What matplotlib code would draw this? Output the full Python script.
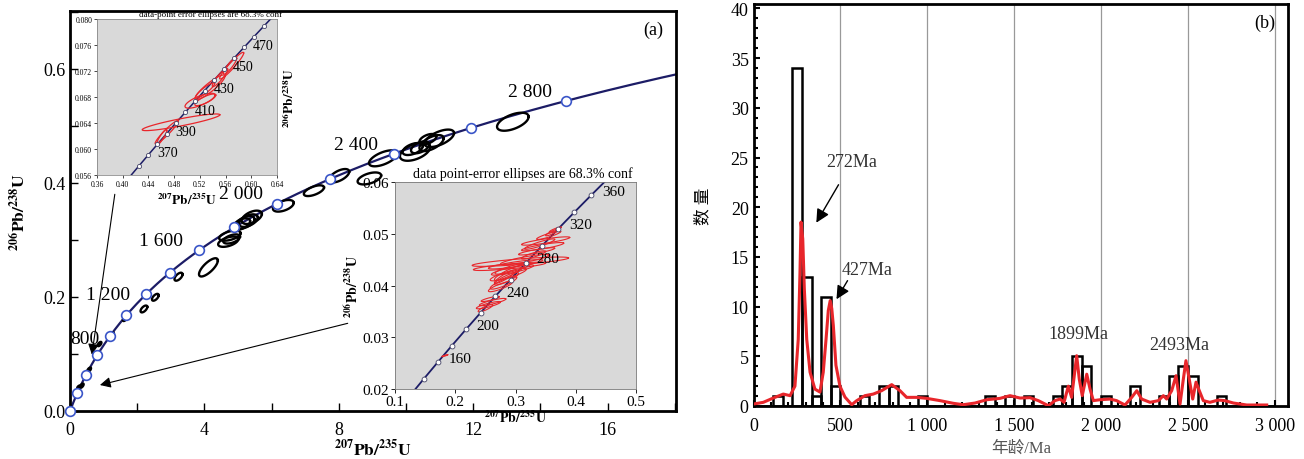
import numpy as np
import matplotlib
matplotlib.use('Agg')
import matplotlib.pyplot as plt
from matplotlib.ticker import MultipleLocator

plt.rcParams['font.family'] = ['Liberation Serif', 'Noto Sans CJK SC']
plt.rcParams['mathtext.fontset'] = 'stix'

# decay constants, 1/Ma
lam238 = 1.55125e-4
lam235 = 9.8485e-4

# concordia ticks (Ma)
main_ticks = [0, 200, 400, 600, 800, 1000, 1200, 1400, 1600, 1800, 2000, 2200, 2400, 2600, 2800]
main_labelled = [800, 1200, 1600, 2000, 2400, 2800]
main_label_txt = ['800', '1 200', '1 600', '2 000', '2 400', '2 800']
in1_ticks = [360, 370, 380, 390, 400, 410, 420, 430, 440, 450, 460, 470, 480, 490]
in1_labelled = [370, 390, 410, 430, 450, 470]
in2_ticks = [140, 160, 180, 200, 220, 240, 260, 280, 300, 320, 340, 360]
in2_labelled = [160, 200, 240, 280, 320, 360]

# old grains, main diagram: 207Pb/235U, 206Pb/238U, 1s x, 1s y, rho
old_x = [13.18, 10.99, 10.76, 10.27, 10.20, 10.42, 10.65, 9.32, 8.01, 8.91, 7.26, 6.35,
         5.41, 5.31, 5.21, 5.11, 4.76, 4.71, 4.81, 4.12, 3.23, 2.54, 2.20]
old_y = [0.5075, 0.4784, 0.470, 0.455, 0.4596, 0.4626, 0.477, 0.4433, 0.4128, 0.408, 0.3865, 0.360,
         0.3398, 0.334, 0.331, 0.328, 0.3076, 0.297, 0.3018, 0.252, 0.2356, 0.1995, 0.179]
old_sx = [0.47, 0.44, 0.36, 0.45, 0.30, 0.27, 0.25, 0.42, 0.30, 0.35, 0.30, 0.31,
          0.30, 0.28, 0.28, 0.25, 0.32, 0.30, 0.25, 0.28, 0.12, 0.10, 0.10]
old_sy = [0.0158, 0.0153, 0.014, 0.016, 0.0105, 0.0105, 0.009, 0.014, 0.0117, 0.0105, 0.0094, 0.0102,
          0.0117, 0.011, 0.011, 0.010, 0.0088, 0.009, 0.008, 0.016, 0.007, 0.006, 0.006]
old_rho = [0.55, 0.6, 0.6, 0.5, 0.5, 0.5, 0.5, 0.6, 0.6, 0.5, 0.6, 0.5,
           0.5, 0.5, 0.5, 0.5, 0.5, 0.5, 0.5, 0.75, 0.6, 0.6, 0.6]
# small grains sitting on the curve
small_x = [1.64, 1.24, 0.88, 0.57, 0.35, 0.26]
small_y = [0.1626, 0.1333, 0.1175, 0.0725, 0.0444, 0.042]
small_sx = [0.07, 0.07, 0.06, 0.06, 0.06, 0.05]
small_sy = [0.005, 0.005, 0.004, 0.004, 0.004, 0.003]

# inset 1 grains (~370-470 Ma)
in1_x = [0.4907, 0.4684, 0.5202, 0.5285, 0.5358, 0.528, 0.5695, 0.567, 0.5513, 0.4606]
in1_y = [0.06411, 0.06257, 0.06743, 0.06757, 0.06949, 0.0690, 0.07282, 0.0728, 0.0710, 0.0618]
in1_sx = [0.0604, 0.018, 0.0233, 0.0163, 0.0233, 0.015, 0.0187, 0.0104, 0.012, 0.008]
in1_sy = [0.00128, 0.0018, 0.00115, 0.0009, 0.0019, 0.0012, 0.00205, 0.00128, 0.0014, 0.0012]
in1_rho = [0.9, 0.95, 0.75, 0.8, 0.9, 0.9, 0.95, 0.9, 0.9, 0.9]

# inset 2 grains (~160-320 Ma)
in2_x = [0.350, 0.345, 0.335, 0.355, 0.362, 0.366, 0.340, 0.330,
         0.308, 0.290, 0.300, 0.315, 0.295, 0.288, 0.285, 0.280, 0.275, 0.290, 0.283, 0.296,
         0.262, 0.255, 0.250, 0.258, 0.1826]
in2_y = [0.0486, 0.0475, 0.0466, 0.0497, 0.0503, 0.0508, 0.0480, 0.0459,
         0.0446, 0.0437, 0.0441, 0.0450, 0.0430, 0.0421, 0.0413, 0.0405, 0.0398, 0.0425, 0.0417, 0.0433,
         0.0368, 0.0362, 0.0356, 0.0374, 0.02644]
in2_sx = [0.040, 0.035, 0.030, 0.020, 0.012, 0.010, 0.025, 0.020,
          0.080, 0.060, 0.045, 0.040, 0.035, 0.030, 0.020, 0.022, 0.020, 0.025, 0.018, 0.030,
          0.022, 0.020, 0.012, 0.015, 0.005]
in2_sy = [0.0008, 0.0008, 0.0007, 0.0008, 0.0007, 0.0005, 0.0010, 0.0008,
          0.0009, 0.0008, 0.0009, 0.0010, 0.0010, 0.0012, 0.0012, 0.0012, 0.0010, 0.0015, 0.0013, 0.0011,
          0.0007, 0.0007, 0.0007, 0.0005, 0.0002]
in2_rho = [0.85, 0.85, 0.85, 0.9, 0.9, 0.9, 0.9, 0.85,
           0.8, 0.8, 0.85, 0.85, 0.85, 0.85, 0.85, 0.85, 0.85, 0.9, 0.9, 0.85,
           0.85, 0.85, 0.85, 0.85, 0.9]

# histogram, bins of 500/9 Ma from 0
bin_width = 500 / 9
counts = [0, 0, 1, 0, 34, 13, 1, 11, 2, 0, 0, 1, 0, 2, 2, 0, 0, 1, 0, 0,
          0, 0, 0, 0, 1, 0, 1, 0, 1, 0, 0, 1, 2, 5, 4, 0, 1, 0, 0, 2,
          0, 0, 1, 3, 4, 3, 0, 0, 1, 0, 0, 0, 0, 0]

# probability curve (Ma, scaled to counts)
kde_age = [0, 56, 113, 171, 210, 238, 257, 267, 273, 283, 292, 306, 325, 353, 382, 401, 417, 430,
           441, 450, 459, 474, 497, 526, 565, 593, 641, 689, 737, 795, 843, 881, 939, 996,
           1073, 1150, 1207, 1275, 1342, 1419, 1476, 1534, 1591, 1639, 1697, 1735, 1764, 1787,
           1812, 1831, 1860, 1875, 1892, 1918, 1937, 1956, 1994, 2052, 2090, 2138, 2177, 2206,
           2234, 2282, 2330, 2359, 2378, 2407, 2432, 2455, 2474, 2489, 2508, 2528, 2547, 2566,
           2589, 2627, 2675, 2713, 2762, 2839, 2954]
kde_val = [0.2, 0.37, 0.8, 1.2, 1.04, 2.0, 6.7, 13.4, 18.5, 16.8, 11.8, 6.7, 3.4, 1.7, 1.4, 3.4, 6.7, 9.6,
           10.6, 9.8, 8.1, 4.1, 2.0, 0.9, 0.13, 0.53, 1.04, 1.2, 1.54, 2.15, 1.54, 0.87, 0.87, 0.77,
           0.54, 0.27, 0.13, 0.3, 0.63, 0.77, 1.04, 0.8, 0.84, 0.54, 0.03, 0.54, 0.7, 0.37,
           2.0, 0.87, 5.06, 2.7, 1.04, 3.2, 1.7, 0.54, 0.63, 0.7, 0.54, 0.1, 0.87, 1.54,
           0.7, 0.37, 0.54, 1.04, 0.7, 1.54, 3.05, 0.2, 2.7, 4.56, 2.7, 0.7, 2.4, 1.54,
           0.54, 0.37, 0.6, 0.54, 0.3, 0.1, 0.1]

b_xticks = [0, 500, 1000, 1500, 2000, 2500, 3000]
b_xlabels = ['0', '500', '1 000', '1 500', '2 000', '2 500', '3 000']
peak_txt = ['272Ma', '427Ma', '1899Ma', '2493Ma']


def conc(t):
    t = np.asarray(t, dtype=float)
    return np.exp(lam235 * t) - 1, np.exp(lam238 * t) - 1


def ell(x, y, sx, sy, rho):
    a = np.linspace(0, 2 * np.pi, 120)
    return x + sx * np.cos(a), y + sy * (rho * np.cos(a) + np.sqrt(1 - rho ** 2) * np.sin(a))


W, H = 1304, 460
fig = plt.figure(figsize=(W / 100, H / 100), dpi=100)

navy = '#1c1c66'
red = '#e8262b'

# ---------------- (a) main concordia
ax = fig.add_axes([70 / W, 48 / H, 606 / W, 400 / H])
ax.set_xlim(0, 606 / 33.6)
ax.set_ylim(0, 400 / 570)
cx, cy = conc(np.linspace(0, 3100, 400))
ax.plot(cx, cy, color=navy, lw=1.6, zorder=2)
for i in range(len(old_x)):
    ex, ey = ell(old_x[i], old_y[i], old_sx[i], old_sy[i], old_rho[i])
    ax.plot(ex, ey, color='k', lw=1.7, zorder=3)
for i in range(len(small_x)):
    ex, ey = ell(small_x[i], small_y[i], small_sx[i], small_sy[i], 0.6)
    ax.fill(ex, ey, color='k', lw=1.5, zorder=3)
mx, my = conc(main_ticks)
ax.plot(mx, my, 'o', ms=7, mfc='white', mec='#3a55c8', mew=1.2, zorder=4, clip_on=False)
offs = [(-18, -2), (-27, 0), (-27, 7), (-26, 7), (-27, 7), (-26, 7)]
lx, ly = conc(main_labelled)
for i, s in enumerate(main_label_txt):
    ax.annotate(s, (lx[i], ly[i]), xytext=offs[i], textcoords='offset points',
                ha='center', va='center', fontsize=14)
ax.annotate('', xy=(0.64, 0.094), xytext=(1.345, 0.385),
            arrowprops=dict(arrowstyle='-|>', color='k', lw=0.8, mutation_scale=16))
ax.annotate('', xy=(0.81, 0.0444), xytext=(8.345, 0.155),
            arrowprops=dict(arrowstyle='-|>', color='k', lw=0.8, mutation_scale=16))
ax.text(17.35, 0.670, '(a)', fontsize=13, ha='center', va='center')
ax.set_xticks([0, 4, 8, 12, 16])
ax.set_yticks([0.0, 0.2, 0.4, 0.6])
ax.set_yticklabels(['0.0', '0.2', '0.4', '0.6'])
ax.xaxis.set_minor_locator(MultipleLocator(2))
ax.yaxis.set_minor_locator(MultipleLocator(0.1))
ax.tick_params(which='both', direction='in', width=1, labelsize=13, length=6)
ax.tick_params(axis='x', pad=7)
for sp in ax.spines.values():
    sp.set_linewidth(2)
ax.set_xlabel(r'$\mathbf{^{207}Pb/^{235}U}$', fontsize=12.5, labelpad=0)
ax.set_ylabel(r'$\mathbf{^{206}Pb/^{238}U}$', fontsize=12.5, labelpad=10)

# ---------------- inset 1
a1 = fig.add_axes([97 / W, 284 / H, 180 / W, 156 / H], facecolor='#d9d9d9')
a1.set_xlim(0.36, 0.64)
a1.set_ylim(0.056, 0.080)
cx, cy = conc(np.linspace(330, 520, 100))
a1.plot(cx, cy, color=navy, lw=1.1)
for i in range(len(in1_x)):
    ex, ey = ell(in1_x[i], in1_y[i], in1_sx[i], in1_sy[i], in1_rho[i])
    a1.plot(ex, ey, color=red, lw=0.9)
tx, ty = conc(in1_ticks)
a1.plot(tx, ty, 'o', ms=3, mfc='white', mec='#444466', mew=0.6)
lx, ly = conc(in1_labelled)
for i, t in enumerate(in1_labelled):
    a1.annotate(str(t), (lx[i], ly[i]), xytext=(14, 1.5), textcoords='offset points',
                ha='center', va='center', fontsize=10)
a1.set_xticks(np.arange(0.36, 0.641, 0.04))
a1.set_xticklabels(['0.36', '0.40', '0.44', '0.48', '0.52', '0.56', '0.60', '0.64'])
a1.set_yticks(np.arange(0.056, 0.0801, 0.004))
a1.set_yticklabels(['0.056', '0.060', '0.064', '0.068', '0.072', '0.076', '0.080'])
a1.tick_params(labelsize=5.5, length=2, width=0.5, pad=1.5)
for sp in a1.spines.values():
    sp.set_linewidth(0.5)
    sp.set_color('#777777')
a1.set_xlabel(r'$\mathbf{^{207}Pb/^{235}U}$', fontsize=9.5, labelpad=3)
a1.yaxis.set_label_position('right')
a1.set_ylabel(r'$\mathbf{^{206}Pb/^{238}U}$', fontsize=9.5, labelpad=3)
a1.text(0.63, 1.005, 'data-point error ellipses are 68.3% conf', transform=a1.transAxes,
        fontsize=6.5, ha='center', va='bottom')

# ---------------- inset 2
a2 = fig.add_axes([395 / W, 70 / H, 241 / W, 207 / H], facecolor='#d9d9d9')
a2.set_xlim(0.1, 0.5)
a2.set_ylim(0.02, 0.06)
cx, cy = conc(np.linspace(110, 400, 120))
a2.plot(cx, cy, color=navy, lw=1.3)
for i in range(len(in2_x)):
    ex, ey = ell(in2_x[i], in2_y[i], in2_sx[i], in2_sy[i], in2_rho[i])
    a2.plot(ex, ey, color=red, lw=0.8)
tx, ty = conc(in2_ticks)
a2.plot(tx, ty, 'o', ms=3.5, mfc='white', mec='#444466', mew=0.6)
lx, ly = conc(in2_labelled)
for i, t in enumerate(in2_labelled):
    a2.annotate(str(t), (lx[i], ly[i]), xytext=(16, 3), textcoords='offset points',
                ha='center', va='center', fontsize=11)
a2.set_xticks([0.1, 0.2, 0.3, 0.4, 0.5])
a2.set_xticklabels(['0.1', '0.2', '0.3', '0.4', '0.5'])
a2.set_yticks([0.02, 0.03, 0.04, 0.05, 0.06])
a2.set_yticklabels(['0.02', '0.03', '0.04', '0.05', '0.06'])
a2.tick_params(labelsize=11, length=3, width=0.6, pad=1.5)
for sp in a2.spines.values():
    sp.set_linewidth(0.6)
    sp.set_color('#777777')
a2.set_xlabel(r'$\mathbf{^{207}Pb/^{235}U}$', fontsize=10, labelpad=0)
a2.set_ylabel(r'$\mathbf{^{206}Pb/^{238}U}$', fontsize=10, labelpad=1)
a2.text(0.53, 1.01, 'data point-error ellipses are 68.3% conf', transform=a2.transAxes,
        fontsize=10, ha='center', va='bottom')

# ---------------- (b) histogram + probability curve
bx = fig.add_axes([753.6 / W, 53 / H, 534.4 / W, 402 / H])
edges = np.arange(len(counts)) * bin_width
bx.bar(edges, counts, width=bin_width, align='edge', fill=False, edgecolor='k', lw=1.8, zorder=3)
bx.plot(kde_age, kde_val, color=red, lw=2.2, zorder=4)
bx.set_xlim(0, 534.4 / 0.1737)
bx.set_ylim(0, 402 / 9.94)
bx.set_xticks(b_xticks)
bx.set_xticklabels(b_xlabels)
bx.set_yticks(np.arange(0, 41, 5))
bx.xaxis.set_minor_locator(MultipleLocator(100))
bx.yaxis.set_minor_locator(MultipleLocator(1))
bx.grid(axis='x', which='major', color='#999999', lw=0.9, zorder=0)
bx.tick_params(which='both', direction='in', width=1.5, labelsize=13)
bx.tick_params(which='major', length=4)
bx.tick_params(which='minor', length=3)
bx.tick_params(axis='x', pad=8)
for sp in bx.spines.values():
    sp.set_linewidth(2)
txt_c = '#333333'
bx.text(565, 24.6, peak_txt[0], fontsize=13, ha='center', va='center', color=txt_c)
bx.annotate('', xy=(353, 18.2), xytext=(497, 22.5),
            arrowprops=dict(arrowstyle='-|>', color='k', lw=1, mutation_scale=20))
bx.text(651, 13.7, peak_txt[1], fontsize=13, ha='center', va='center', color=txt_c)
bx.annotate('', xy=(469, 10.5), xytext=(549, 12.85),
            arrowprops=dict(arrowstyle='-|>', color='k', lw=1, mutation_scale=20))
bx.text(1869, 7.3, peak_txt[2], fontsize=13, ha='center', va='center', color=txt_c)
bx.text(2450, 6.2, peak_txt[3], fontsize=13, ha='center', va='center', color=txt_c)
bx.text(2944, 38.6, '(b)', fontsize=13, ha='center', va='center')
bx.set_xlabel('年龄/Ma', fontsize=12, color='#555555', labelpad=4)
bx.set_ylabel('数 量', fontsize=12, labelpad=14)

fig.savefig('out.png', dpi=100)
